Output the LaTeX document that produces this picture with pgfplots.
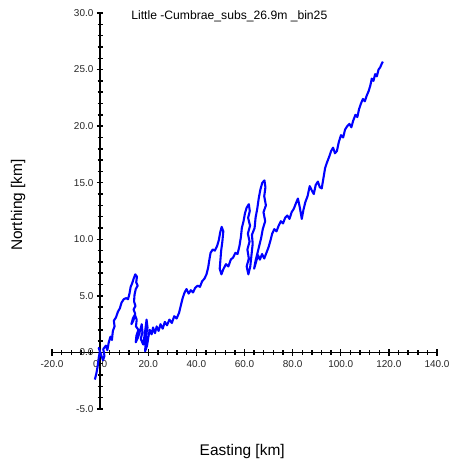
\documentclass[border=0pt]{standalone}
\usepackage{fontspec}
\setmainfont{Liberation Sans}
\usepackage{pgfplots}
\pgfplotsset{compat=1.18}
\begin{document}
\begin{tikzpicture}
\begin{axis}[
  scale only axis, width=385bp, height=396bp,
  xmin=-20, xmax=140, ymin=-5, ymax=30,
  axis lines=middle,
  axis line style={-, line width=1.7pt, black},
  xtick={-20,0,20,40,60,80,100,120,140},
  ytick={-5,0,5,10,15,20,25,30},
  minor x tick num=4, minor y tick num=4,
  tick align=center, major tick length=6.5bp, minor tick length=5bp,
  every tick/.style={line width=1.5pt, black},
  hide obscured x ticks=false, hide obscured y ticks=false,
  /pgf/number format/fixed, /pgf/number format/fixed zerofill,
  /pgf/number format/precision=1, /pgf/number format/assume math mode=true,
  ticklabel style={font=\fontsize{10}{12}\selectfont, text=black!85},
  xticklabel style={yshift=-1bp},
  xlabel={Easting [km]}, ylabel={Northing [km]},
  xlabel style={at={(axis description cs:0.494,-0.1086)}, anchor=center, font=\fontsize{15.5}{18}\selectfont},
  ylabel style={at={(axis description cs:-0.088,0.515)}, rotate=90, anchor=center, font=\fontsize{15.5}{18}\selectfont},
  title={Little -Cumbrae\_subs\_26.9m \_bin25},
  every axis title shift=0pt,
  title style={at={(axis description cs:0.197,0.992)}, anchor=west, font=\fontsize{12.2}{14}\selectfont},
  clip=false,
]
\addplot[blue, line width=2.1pt, line join=round, no marks] coordinates {
(-2.2,-2.4) (-1.6,-1.9) (-1.0,-1.2) (-0.6,-0.5) (-0.1,0.1) (-0.6,0.4) (0.4,-0.2) (1.2,-0.7)
(1.8,-0.3) (1.3,0.3) (2.4,0.6) (3.0,0.2) (3.6,0.9) (4.3,1.4) (4.9,1.1) (5.3,1.9) (6.0,2.3)
(5.7,2.8) (6.6,3.1) (7.4,3.6) (8.2,3.9) (8.9,4.4) (9.8,4.7) (10.8,4.8) (11.6,4.7) (12.2,5.2)
(12.7,5.8) (13.3,6.1) (13.9,6.5) (14.6,6.9) (15.3,6.7) (15.0,6.2) (15.6,5.9) (14.8,5.6)
(14.3,5.1) (14.1,4.5) (14.7,4.1) (13.9,3.8) (14.6,3.4) (13.6,3.0) (13.0,2.5) (13.8,2.8)
(14.5,3.3) (15.2,2.9) (14.9,2.3) (15.9,2.0) (15.1,1.5) (14.8,0.9) (15.7,1.3) (16.6,1.9)
(17.3,2.5) (17.6,1.8) (16.9,1.2) (17.9,0.7) (18.4,1.4) (18.9,2.2) (19.3,2.9) (19.7,2.2)
(19.1,1.5) (18.9,0.8) (18.7,0.1) (19.5,0.6) (20.1,1.4) (20.6,2.0) (21.4,1.6) (22.0,2.2)
(22.8,1.7) (23.5,2.3) (24.3,1.9) (25.1,2.5) (26.0,2.1) (26.9,2.7) (27.8,2.4) (28.8,2.9)
(29.8,2.6) (30.8,3.2) (31.8,3.0) (32.8,3.5) (33.6,4.2) (34.3,4.8) (35.1,5.3) (35.9,5.6)
(36.8,5.2) (37.7,5.5) (38.6,5.3) (39.5,5.7) (40.5,5.9) (41.5,5.8) (42.4,6.3) (43.3,6.5)
(44.2,6.9) (44.9,7.5) (45.4,8.2) (45.9,8.8) (46.8,9.1) (47.7,9.0) (48.6,9.4) (49.3,9.9)
(49.9,10.6) (50.5,11.1) (51.2,10.7) (50.8,9.8) (50.3,9.0) (50.0,8.2) (49.7,7.4) (50.4,6.9)
(51.3,7.4) (52.3,7.8) (53.3,7.6) (54.3,8.2) (55.3,8.4) (56.2,8.8) (57.1,8.7) (57.9,9.4)
(58.5,10.2) (58.9,11.0) (59.6,11.6) (60.2,12.3) (60.9,12.8) (61.8,13.1) (62.2,12.5)
(61.5,11.9) (62.3,11.2) (61.4,10.5) (62.1,9.8) (61.2,9.1) (61.8,8.3) (60.9,7.6) (61.6,6.9)
(62.4,7.6) (62.9,8.6) (63.4,9.6) (63.1,10.4) (64.2,11.0) (64.6,11.9) (65.3,12.7) (65.9,13.6)
(66.6,14.4) (67.4,15.0) (68.3,15.2) (68.7,14.6) (68.2,13.8) (68.9,13.0) (67.9,12.4)
(68.6,11.6) (67.6,10.9) (66.9,10.1) (66.1,9.4) (65.3,8.7) (64.6,8.1) (64.0,7.4) (64.8,8.0)
(65.6,8.6) (66.4,8.2) (67.3,8.7) (68.2,8.3) (69.1,8.8) (70.0,9.3) (70.8,9.9) (71.5,10.5)
(72.4,10.9) (73.3,10.7) (74.2,11.2) (75.1,11.6) (76.0,11.4) (76.9,11.9) (77.8,12.1)
(78.7,11.8) (79.6,12.4) (80.5,12.7) (81.4,13.2) (82.2,13.6) (83.0,12.8) (83.8,11.8)
(84.5,12.6) (85.3,13.3) (86.2,13.8) (87.1,14.7) (88.0,14.3) (88.8,14.0) (89.6,14.8)
(90.5,15.1) (91.3,14.6) (92.1,14.5) (92.8,15.4) (93.5,16.3) (94.3,16.8) (95.2,17.3)
(96.0,17.8) (96.8,18.1) (97.6,17.6) (98.4,17.8) (99.2,18.6) (100.1,19.2) (101.0,19.0)
(101.8,19.7) (102.7,20.0) (103.6,20.2) (104.4,19.9) (105.2,20.5) (106.1,21.0) (106.9,20.8)
(107.6,21.5) (108.4,22.0) (109.2,22.4) (110.0,22.2) (110.8,22.7) (111.6,23.1) (112.3,23.6)
(112.9,24.2) (113.6,24.0) (114.3,24.6) (115.0,24.4) (115.7,25.0) (116.4,25.2) (117.0,25.5)
(117.5,25.7)
};
\coordinate (ll) at (rel axis cs:0,0);
\coordinate (ur) at (rel axis cs:1,1);
\end{axis}
\path ([shift={(-52bp,-57bp)}]ll) rectangle ([shift={(16bp,13bp)}]ur);
\end{tikzpicture}
\end{document}
